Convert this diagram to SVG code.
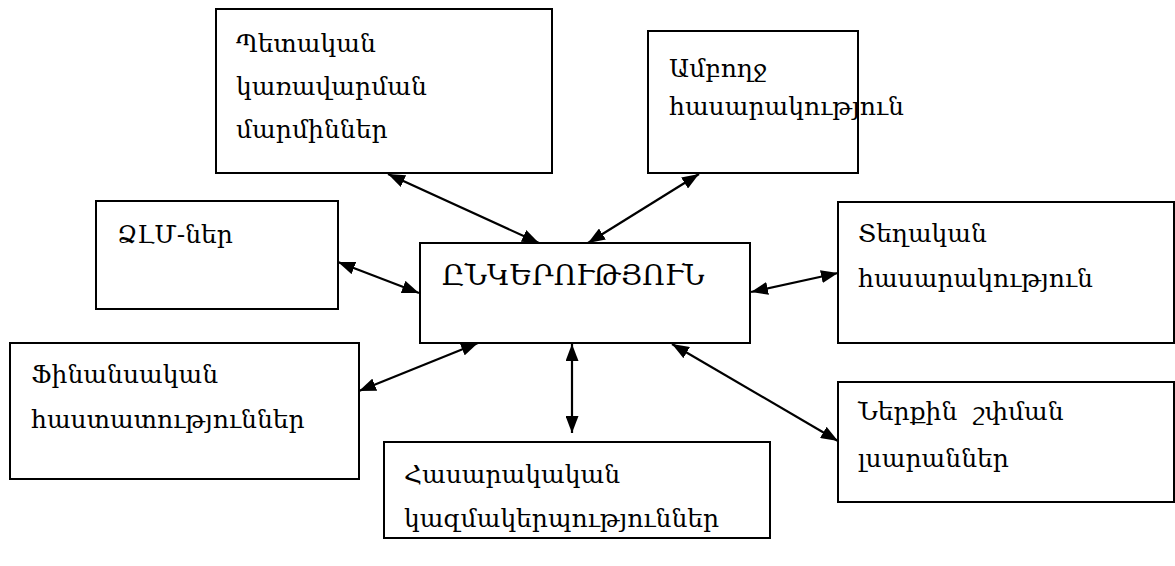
<svg xmlns="http://www.w3.org/2000/svg" width="1175" height="566" viewBox="0 0 1175 566">
<style>
.box{fill:#fff;stroke:#000;stroke-width:2}
.t{font-family:"DejaVu Serif","Noto Serif",serif;font-size:25px;fill:#000;white-space:pre}
.tc{font-family:"DejaVu Serif","Noto Serif",serif;font-size:28px;fill:#000}
.c{stroke:#000;stroke-width:2.2;fill:none;marker-start:url(#ah);marker-end:url(#ah)}
</style>
<defs>
<marker id="ah" viewBox="0 0 17 13" markerWidth="17" markerHeight="13" refX="17" refY="6.5" orient="auto-start-reverse" markerUnits="userSpaceOnUse">
<path d="M0,0 L17,6.5 L0,13 z" fill="#000"/>
</marker>
</defs>
<rect width="1175" height="566" fill="#fff"/>
<g id="n-state">
<rect class="box" x="216" y="9" width="336" height="164"/>
<text class="t" x="236" y="52">Պետական</text>
<text class="t" x="236" y="95">կառավարման</text>
<text class="t" x="236" y="138">մարմիններ</text>
</g>
<g id="n-society">
<rect class="box" x="648" y="31" width="210" height="142"/>
<text class="t" x="669" y="77">Ամբողջ</text>
<text class="t" x="669" y="115">հասարակություն</text>
</g>
<g id="n-media">
<rect class="box" x="96" y="201" width="242" height="108"/>
<text class="t" x="117" y="243">ՁԼՄ-ներ</text>
</g>
<g id="n-company">
<rect class="box" x="420" y="243" width="330" height="100"/>
<text class="tc" x="442" y="285">ԸՆԿԵՐՈՒԹՅՈՒՆ</text>
</g>
<g id="n-local">
<rect class="box" x="838" y="202" width="336" height="141"/>
<text class="t" x="858" y="242">Տեղական</text>
<text class="t" x="858" y="287">հասարակություն</text>
</g>
<g id="n-finance">
<rect class="box" x="10" y="343" width="349" height="136"/>
<text class="t" x="31" y="383">Ֆինանսական</text>
<text class="t" x="31" y="428">հաստատություններ</text>
</g>
<g id="n-internal">
<rect class="box" x="838" y="382" width="336" height="120"/>
<text class="t" x="858" y="420">Ներքին  շփման</text>
<text class="t" x="858" y="467">լսարաններ</text>
</g>
<g id="n-ngo">
<rect class="box" x="384" y="442" width="386" height="96"/>
<text class="t" x="404" y="483">Հասարակական</text>
<text class="t" x="404" y="527">կազմակերպություններ</text>
</g>
<g id="connectors">
<line class="c" x1="388" y1="174" x2="539" y2="243"/>
<line class="c" x1="699" y1="174" x2="588" y2="243"/>
<line class="c" x1="338" y1="262" x2="419" y2="293"/>
<line class="c" x1="359" y1="391" x2="478" y2="343"/>
<line class="c" x1="572" y1="344" x2="572" y2="433"/>
<line class="c" x1="672" y1="344" x2="838" y2="441"/>
<line class="c" x1="751" y1="292" x2="838" y2="273"/>
</g>
</svg>
